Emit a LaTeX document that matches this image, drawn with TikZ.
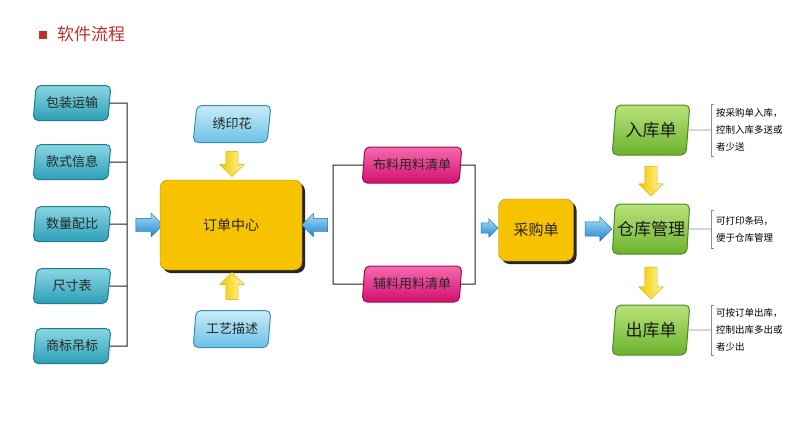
\documentclass[tikz,border=0pt]{standalone}
\usepackage{fontspec}
\setmainfont{Noto Sans CJK SC}
\usetikzlibrary{shapes.geometric,shapes.arrows,shadows}
\definecolor{tealA}{HTML}{8AD6E3}
\definecolor{tealB}{HTML}{2C9FB6}
\definecolor{tealC}{HTML}{1E7E92}
\definecolor{lblA}{HTML}{C8ECF8}
\definecolor{lblB}{HTML}{6CC0E6}
\definecolor{lblC}{HTML}{3C8FB8}
\definecolor{pinkA}{HTML}{F46AAE}
\definecolor{pinkB}{HTML}{D3106E}
\definecolor{pinkC}{HTML}{9C0E52}
\definecolor{grnA}{HTML}{B8E27A}
\definecolor{grnB}{HTML}{6CB22E}
\definecolor{grnC}{HTML}{4E8A1E}
\definecolor{ylw}{HTML}{F7C200}
\definecolor{arrB1}{HTML}{A8DCF6}
\definecolor{arrB2}{HTML}{1F86D0}
\definecolor{arrY1}{HTML}{FFF59A}
\definecolor{arrY2}{HTML}{F2C800}
\definecolor{ttl}{HTML}{C0302A}
\definecolor{lnk}{HTML}{222222}
\begin{document}
\begin{tikzpicture}[x=1pt,y=-1pt,
  card/.style={trapezium, trapezium left angle=80, trapezium right angle=100,
    trapezium stretches=true, rounded corners=5pt, inner sep=0pt,
    line width=1pt},
  tealbox/.style={card, minimum width=78pt, minimum height=35pt,
    top color=tealA, bottom color=tealB, draw=tealC, text=black!85, font=\fontsize{13}{13}\selectfont},
  lbbox/.style={card, minimum width=78pt, minimum height=37pt,
    top color=lblA, bottom color=lblB, draw=lblC, text=black!85, font=\fontsize{13}{13}\selectfont},
  pinkbox/.style={card, minimum width=100pt, minimum height=36pt,
    top color=pinkA, bottom color=pinkB, draw=pinkC, text=black!85, font=\fontsize{13}{13}\selectfont},
  grnbox/.style={card, minimum width=78pt, minimum height=50pt,
    top color=grnA, bottom color=grnB, draw=grnC, text=black!90, font=\fontsize{17}{17}\selectfont},
  ybox/.style={rectangle, rounded corners=8pt, fill=ylw, draw=ylw!70!black,
    drop shadow={shadow xshift=3pt, shadow yshift=-3pt, fill=black!85, opacity=1},
    inner sep=0pt, text=black!85},
  barrow/.style={single arrow, inner sep=6.5pt, single arrow head extend=5pt,
    top color=arrB1, bottom color=arrB2, draw=arrB2!80!black, line width=0.4pt},
  yarrow/.style={single arrow, inner sep=6pt, single arrow head extend=6pt,
    left color=arrY2, right color=arrY1, draw=arrY2!85!black, line width=0.4pt},
  link/.style={draw=lnk, line width=1pt},
  note/.style={anchor=west, align=left, font=\fontsize{9.5}{17}\selectfont, inner sep=0pt},
  notel/.style={draw=black!45, line width=0.6pt}
]
\useasboundingbox (0,0) rectangle (800,436);
\fill[white] (0,0) rectangle (800,436);

% title
\node[fill=ttl, minimum size=8pt, inner sep=0pt] (tsq) at (43,35) {};
\node[anchor=west, text=ttl, font=\fontsize{17}{17}\selectfont, inner sep=0pt] (ttext) at (57,34) {软件流程};

% left teal cards
\node[tealbox] (b1) at (72,103) {包装运输};
\node[tealbox] (b2) at (72,162) {款式信息};
\node[tealbox] (b3) at (72,224) {数量配比};
\node[tealbox] (b4) at (72,286) {尺寸表};
\node[tealbox] (b5) at (72,346) {商标吊标};
\coordinate (k1) at (127,103);
\coordinate (k2) at (127,162);
\coordinate (k3) at (127,224);
\coordinate (k4) at (127,286);
\coordinate (k5) at (127,346);
\draw[link] (b1.east) -- (k1) -- (k5) -- (b5.east);
\draw[link] (b2.east) -- (k2);
\draw[link] (b3.east) -- (k3);
\draw[link] (b4.east) -- (k4);

\node[barrow, minimum height=27pt] (a1) at (146,225) {};

% order center
\node[ybox, minimum width=142pt, minimum height=90pt, font=\fontsize{14}{14}\selectfont] (order) at (231,225) {订单中心};
\node[lbbox] (xyh) at (232,124) {绣印花};
\node[lbbox] (gy) at (232,329) {工艺描述};
\node[yarrow, shape border rotate=270, minimum height=25pt] (ya1) at (232,161) {};
\node[yarrow, shape border rotate=90, minimum height=27pt] (ya2) at (232,289) {};

\node[barrow, shape border rotate=180, minimum height=26pt] (a2) at (318,225) {};

% materials
\node[pinkbox] (p1) at (412,165) {布料用料清单};
\node[pinkbox] (p2) at (412,284) {辅料用料清单};
\coordinate (m1) at (333,165);
\coordinate (m2) at (333,284);
\coordinate (n1) at (475,165);
\coordinate (n2) at (475,284);
\draw[link] (p1.west) -- (m1) -- (m2) -- (p2.west);
\draw[link] (p1.east) -- (n1) -- (n2) -- (p2.east);

\node[barrow, minimum height=17pt, inner sep=5pt, single arrow head extend=4pt] (a3) at (487,228) {};
\node[ybox, minimum width=75pt, minimum height=62pt, font=\fontsize{15}{15}\selectfont] (cg) at (536,230) {采购单};
\node[barrow, minimum height=27pt, inner sep=7pt] (a4) at (595,229) {};

% warehouse
\node[grnbox] (g1) at (651,130) {入库单};
\node[grnbox] (g2) at (651,229) {仓库管理};
\node[grnbox] (g3) at (651,330) {出库单};
\node[yarrow, shape border rotate=270, minimum height=30pt] (ya3) at (651,178) {};
\node[yarrow, shape border rotate=270, minimum height=32pt] (ya4) at (651,280) {};

% notes
\node[note] (t1) at (716,130) {按采购单入库，\\控制入库多送或\\者少送};
\node[note] (t2) at (716,229) {可打印条码，\\便于仓库管理};
\node[note] (t3) at (716,330) {可按订单出库，\\控制出库多出或\\者少出};
\coordinate (c1) at (711,130);
\coordinate (c2) at (711,229);
\coordinate (c3) at (711,330);
\draw[notel] (g1.east) -- (c1);
\draw[notel] (g2.east) -- (c2);
\draw[notel] (g3.east) -- (c3);
\draw[notel] (714,104) -- (711,104) -- (711,156) -- (714,156);
\draw[notel] (714,210) -- (711,210) -- (711,248) -- (714,248);
\draw[notel] (714,305) -- (711,305) -- (711,355) -- (714,355);
\end{tikzpicture}
\end{document}
